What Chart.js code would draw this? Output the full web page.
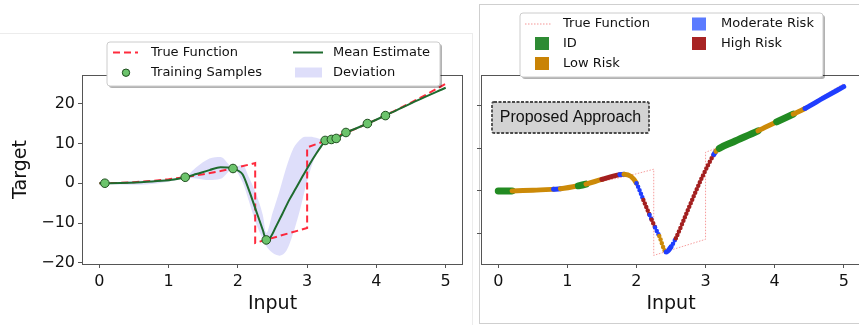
<!DOCTYPE html>
<html><head><meta charset="utf-8">
<script src="https://cdn.jsdelivr.net/npm/chart.js@4.4.1/dist/chart.umd.min.js"></script>
<style>
html,body{margin:0;padding:0;background:#fff;width:859px;height:325px;overflow:hidden;}
#wrap{position:relative;width:859px;height:325px;overflow:hidden;}
#c1{position:absolute;left:0;top:0;}
#c2{position:absolute;left:472px;top:0;}
.frameL{position:absolute;left:-2px;top:33px;width:473px;height:300px;border:1px solid #ececec;}
.frameR{position:absolute;left:479px;top:4px;width:392px;height:318px;border:1px solid #cfcfcf;}
</style></head><body>
<div id="wrap">
<div class="frameL"></div><div class="frameR"></div>
<canvas id="c1" width="470" height="325"></canvas>
<canvas id="c2" width="392" height="325"></canvas>
</div>
<script>
// ---------- data ----------
const xTicks = [0, 1, 2, 3, 4, 5];
const yTicksLeft = [-20, -10, 0, 10, 20];
const yTicksRight = [-10, 0, 10, 20];

// true (piecewise) function
const trueX = [0, 0.25, 0.5, 0.75, 1, 1.25, 1.5, 1.75, 2, 2.25, 2.25, 3, 3, 3.25, 3.5, 3.75, 4, 4.25, 4.5, 4.75, 5];
const trueY = [0, 0.06, 0.25, 0.56, 1, 1.56, 2.25, 3.06, 4, 5.06, -15, -11.25, 9, 10.56, 12.25, 14.06, 16, 18.06, 20.25, 22.56, 25];

// training samples
const sampleX = [0.08, 1.24, 1.93, 2.41, 3.26, 3.35, 3.42, 3.56, 3.87, 4.13];
const sampleY = [0, 1.5, 3.7, -14.25, 10.75, 11.0, 11.25, 12.75, 15.0, 17.0];

// mean estimate
const meanX = [0, 0.3, 0.6, 0.9, 1.08, 1.24, 1.4, 1.59, 1.75, 1.85, 1.93, 2.0, 2.07, 2.16, 2.26, 2.36, 2.41, 2.47, 2.55, 2.64, 2.74, 2.84, 2.93, 3.03, 3.13, 3.2, 3.27, 3.4, 3.6, 3.9, 4.2, 4.6, 5.0];
const meanY = [0, 0.05, 0.25, 0.6, 0.95, 1.5, 2.3, 3.3, 4.0, 3.95, 3.7, 3.2, 2.2, -1.75, -6.75, -11.75, -14.2, -13.6, -10.9, -7.8, -4.25, -1.2, 1.6, 4.6, 7.4, 9.2, 10.75, 11.3, 13.0, 15.2, 17.6, 20.9, 24.0];

// deviation band
const bandX = [0, 0.3, 0.6, 0.9, 1.08, 1.24, 1.4, 1.59, 1.75, 1.93, 2.07, 2.16, 2.26, 2.36, 2.41, 2.5, 2.6, 2.7, 2.8, 2.9, 2.97, 3.05, 3.13, 3.2, 3.27, 3.6, 4.2, 5.0];
const bandUpper = [0.1, 0.3, 0.6, 0.9, 1.2, 1.6, 4.0, 6.2, 6.6, 4.0, 4.6, 1.5, -2.5, -8.0, -12.5, -7.5, -2.0, 4.0, 8.7, 11.0, 11.7, 11.7, 11.4, 11.0, 10.9, 13.1, 17.7, 24.2];
const bandLower = [-0.1, -0.3, -0.4, 0.1, 0.7, 1.4, 1.2, 0.8, 1.1, 3.6, 0.2, -4.5, -10.0, -14.0, -15.8, -17.5, -18.2, -17.0, -12.5, -6.5, -1.5, 3.5, 7.2, 9.1, 10.6, 12.9, 17.5, 23.8];

// proposed approach: estimate coloured by risk category (category applies from a point to the next)
const riskX = [0, 0.2, 0.5, 0.8, 0.9, 1.16, 1.27, 1.5, 1.76, 1.82, 1.92, 2.0, 2.1, 2.19, 2.22, 2.27, 2.33, 2.43, 2.5, 2.57, 2.75, 2.95, 3.12, 3.15, 3.2, 3.4, 3.76, 4.03, 4.27, 4.44, 4.7, 5.0];
const riskY = [0, 0.02, 0.15, 0.4, 0.5, 1.2, 1.6, 2.7, 3.8, 3.9, 3.4, 1.8, -2.1, -5.6, -6.7, -8.5, -10.5, -14.2, -13.0, -11.0, -4.2, 3.2, 8.5, 9.2, 9.9, 11.4, 14.0, 16.1, 17.9, 19.2, 21.6, 24.3];
const riskCat = ['ID','Low','Low','Moderate','Low','ID','Low','High','Moderate','Low','Low','Moderate','High','Moderate','High','Moderate','Low','Moderate','Moderate','High','High','High','Moderate','Low','ID','ID','Low','ID','Low','Moderate','Moderate','Moderate'];

const legendLeft = ['True Function', 'Mean Estimate', 'Training Samples', 'Deviation'];
const legendRight = ['True Function', 'ID', 'Low Risk', 'Moderate Risk', 'High Risk'];
const annotationText = 'Proposed Approach';

// ---------- styles ----------
const FONT = 'DejaVu Sans';
const TXT = '#111';
const SPINE = '#555';
const riskColor = {ID:'#228b22', Low:'#cc8a08', Moderate:'#1f3dff', High:'#a31f1f'};
const riskSwatch = {ID:'#2e8b34', Low:'#c98305', Moderate:'#5b7bff', High:'#a82424'};

const pts = (xs, ys) => xs.map((x, i) => ({x, y: ys[i]}));
const fmt = v => (v < 0 ? '\u2212' + Math.abs(v) : String(v));
Chart.defaults.font.family = FONT;

function xScale() {
  return {
    type: 'linear', min: -0.25, max: 5.25,
    afterBuildTicks: s => { s.ticks = xTicks.map(v => ({value: v})); },
    afterFit: s => { s.height = 61; },
    ticks: {font: {family: FONT, size: 16}, color: TXT, padding: 4, maxRotation: 0, autoSkip: false, callback: v => fmt(v)},
    grid: {display: true, drawOnChartArea: false, drawTicks: true, tickLength: 4, color: SPINE, tickColor: SPINE},
    border: {display: false},
    title: {display: true, text: 'Input', font: {family: FONT, size: 19}, color: TXT, padding: {top: 0, bottom: 10}}
  };
}

function roundRect(ctx, x, y, w, h, r) {
  ctx.beginPath();
  ctx.moveTo(x + r, y);
  ctx.lineTo(x + w - r, y); ctx.quadraticCurveTo(x + w, y, x + w, y + r);
  ctx.lineTo(x + w, y + h - r); ctx.quadraticCurveTo(x + w, y + h, x + w - r, y + h);
  ctx.lineTo(x + r, y + h); ctx.quadraticCurveTo(x, y + h, x, y + h - r);
  ctx.lineTo(x, y + r); ctx.quadraticCurveTo(x, y, x + r, y);
  ctx.closePath();
}
function legendBox(ctx, x, y, w, h) {
  ctx.fillStyle = 'rgba(0,0,0,0.3)';
  roundRect(ctx, x + 2, y + 2, w, h, 3); ctx.fill();
  ctx.fillStyle = '#fff';
  roundRect(ctx, x, y, w, h, 3); ctx.fill();
  ctx.strokeStyle = '#cccccc'; ctx.lineWidth = 1; ctx.stroke();
}
function drawFrame(ctx, a) {
  ctx.strokeStyle = SPINE; ctx.lineWidth = 1; ctx.setLineDash([]);
  ctx.strokeRect(a.left + 0.5, a.top + 0.5, a.right - a.left - 1, a.bottom - a.top);
}
function label(ctx, text, x, y) {
  ctx.fillStyle = TXT; ctx.font = '13px "' + FONT + '"';
  ctx.textBaseline = 'middle'; ctx.textAlign = 'left';
  ctx.fillText(text, x, y);
}

const extrasLeft = {
  id: 'extrasLeft',
  afterDraw(chart) {
    const ctx = chart.ctx;
    ctx.save();
    drawFrame(ctx, chart.chartArea);
    legendBox(ctx, 107, 42, 333, 44);
    ctx.strokeStyle = 'rgba(255,20,40,0.9)'; ctx.lineWidth = 2; ctx.setLineDash([7, 4]);
    ctx.beginPath(); ctx.moveTo(113, 52.5); ctx.lineTo(138, 52.5); ctx.stroke();
    ctx.setLineDash([]);
    label(ctx, legendLeft[0], 151, 52.5);
    ctx.strokeStyle = '#1e6b2e'; ctx.lineWidth = 2;
    ctx.beginPath(); ctx.moveTo(293, 52.5); ctx.lineTo(323, 52.5); ctx.stroke();
    label(ctx, legendLeft[1], 333, 52.5);
    ctx.fillStyle = '#6cc46c'; ctx.strokeStyle = '#1d4d1d'; ctx.lineWidth = 1;
    ctx.beginPath(); ctx.arc(126, 72.7, 3.7, 0, Math.PI * 2); ctx.fill(); ctx.stroke();
    label(ctx, legendLeft[2], 151, 72.5);
    ctx.fillStyle = 'rgba(90,90,230,0.2)';
    ctx.fillRect(295, 67.5, 27, 10);
    label(ctx, legendLeft[3], 333, 72.5);
    ctx.restore();
  }
};

const OX = 472; // right canvas offset in the page
const extrasRight = {
  id: 'extrasRight',
  afterDraw(chart) {
    const ctx = chart.ctx;
    ctx.save();
    drawFrame(ctx, chart.chartArea);
    ctx.fillStyle = '#d3d3d3';
    roundRect(ctx, 492 - OX, 102, 157, 31, 2); ctx.fill();
    ctx.strokeStyle = '#4a4a4a'; ctx.lineWidth = 1.8; ctx.setLineDash([3, 1.5]); ctx.stroke();
    ctx.setLineDash([]);
    ctx.fillStyle = TXT; ctx.font = '16px "Liberation Sans"'; ctx.textAlign = 'center'; ctx.textBaseline = 'middle';
    ctx.fillText(annotationText, 570.5 - OX, 118);
    legendBox(ctx, 520 - OX, 13, 303, 64);
    ctx.strokeStyle = 'rgba(240,90,90,0.8)'; ctx.lineWidth = 0.8; ctx.setLineDash([1.5, 1.5]);
    ctx.beginPath(); ctx.moveTo(525 - OX, 24); ctx.lineTo(552 - OX, 24); ctx.stroke();
    ctx.setLineDash([]);
    label(ctx, legendRight[0], 563 - OX, 24);
    const sq = (c, x, y) => { ctx.fillStyle = c; ctx.fillRect(x - OX, y - 6.5, 14, 13); };
    sq(riskSwatch.ID, 535, 43.5); label(ctx, legendRight[1], 563 - OX, 43.5);
    sq(riskSwatch.Low, 535, 63.5); label(ctx, legendRight[2], 563 - OX, 63.5);
    sq(riskSwatch.Moderate, 692, 24); label(ctx, legendRight[3], 721 - OX, 24);
    sq(riskSwatch.High, 692, 43.5); label(ctx, legendRight[4], 721 - OX, 43.5);
    ctx.restore();
  }
};

// ---------- left chart ----------
new Chart(document.getElementById('c1'), {
  type: 'line',
  data: {
    datasets: [
      {label: 'Training Samples', data: pts(sampleX, sampleY), showLine: false, order: 0,
       pointRadius: 4.3, pointBackgroundColor: '#6cc46c', pointBorderColor: '#1d4d1d', pointBorderWidth: 1},
      {label: 'Mean Estimate', data: pts(meanX, meanY), order: 1, borderColor: '#1e6b2e', borderWidth: 2,
       pointRadius: 0, cubicInterpolationMode: 'monotone', fill: false},
      {label: 'True Function', data: pts(trueX, trueY), order: 2, borderColor: 'rgba(255,20,40,0.9)', borderWidth: 2,
       borderDash: [7, 4], pointRadius: 0, tension: 0, fill: false},
      {label: 'Deviation', data: pts(bandX, bandUpper), order: 3, borderWidth: 0, borderColor: 'rgba(0,0,0,0)',
       pointRadius: 0, cubicInterpolationMode: 'monotone', fill: '+1', backgroundColor: 'rgba(90,90,230,0.2)'},
      {label: 'Deviation lower', data: pts(bandX, bandLower), order: 4, borderWidth: 0, borderColor: 'rgba(0,0,0,0)',
       pointRadius: 0, cubicInterpolationMode: 'monotone', fill: false}
    ]
  },
  options: {
    responsive: false, animation: false, devicePixelRatio: 1,
    layout: {padding: {left: 0, top: 75, right: 7, bottom: 0}},
    plugins: {legend: {display: false}, tooltip: {enabled: false}},
    scales: {
      x: xScale(),
      y: {
        type: 'linear', min: -20.3, max: 27.2,
        afterBuildTicks: s => { s.ticks = yTicksLeft.map(v => ({value: v})); },
        afterFit: s => { s.width = 82; },
        ticks: {font: {family: FONT, size: 16}, color: TXT, padding: 3, callback: v => fmt(v)},
        grid: {display: true, drawOnChartArea: false, drawTicks: true, tickLength: 4, color: SPINE, tickColor: SPINE},
        border: {display: false},
        title: {display: true, text: 'Target', font: {family: FONT, size: 19}, color: TXT, padding: {top: 10, bottom: 0}}
      }
    }
  },
  plugins: [extrasLeft]
});

// ---------- right chart ----------
const steep = c => Math.abs(c.p1.y - c.p0.y) > 1.5 * Math.abs(c.p1.x - c.p0.x);
new Chart(document.getElementById('c2'), {
  type: 'line',
  data: {
    datasets: [
      {label: 'Risk', data: pts(riskX, riskY), order: 0, borderWidth: 5, borderColor: riskColor.Low,
       borderCapStyle: 'round', borderJoinStyle: 'round', pointRadius: 0, cubicInterpolationMode: 'monotone', fill: false,
       segment: {
         borderColor: c => riskColor[riskCat[c.p0DataIndex]],
         borderWidth: c => (steep(c) ? 4.5 : (riskCat[c.p0DataIndex] === 'ID' ? 7 : 5)),
         borderDash: c => (steep(c) ? [0, 3.8] : undefined)
       }},
      {label: 'True Function', data: pts(trueX, trueY), order: 1, borderColor: 'rgba(240,90,90,0.75)', borderWidth: 0.8,
       borderDash: [1.5, 1.5], pointRadius: 0, tension: 0, fill: false}
    ]
  },
  options: {
    responsive: false, animation: false, devicePixelRatio: 1,
    layout: {padding: {left: 0, top: 75, right: 3, bottom: 0}},
    plugins: {legend: {display: false}, tooltip: {enabled: false}},
    scales: {
      x: xScale(),
      y: {
        type: 'linear', min: -17, max: 27,
        afterBuildTicks: s => { s.ticks = yTicksRight.map(v => ({value: v})); },
        afterFit: s => { s.width = 9; },
        ticks: {display: true, callback: () => '', padding: 0},
        grid: {display: true, drawOnChartArea: false, drawTicks: true, tickLength: 4, color: SPINE, tickColor: SPINE},
        border: {display: false}
      }
    }
  },
  plugins: [extrasRight]
});
</script>
</body></html>
